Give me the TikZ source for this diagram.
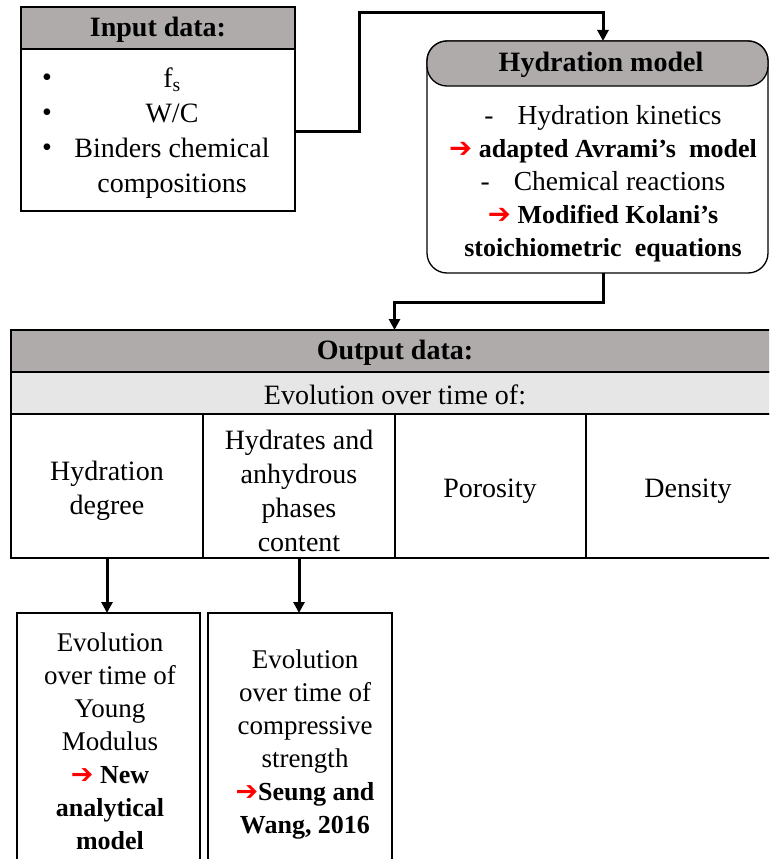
\documentclass[tikz,border=0pt]{standalone}
\usepackage{fontspec}
\setmainfont{Liberation Serif}
\newfontfamily\symfont{DejaVu Sans}
\usetikzlibrary{arrows.meta}
\definecolor{hdr}{HTML}{AFABAB}
\definecolor{subrow}{HTML}{E7E6E6}
\newcommand{\redarr}{{\color{red}\symfont ➔}}
\newcommand{\bt}[1]{{\fontsize{26}{33}\selectfont\bfseries #1}}
\begin{document}
\begin{tikzpicture}[x=1pt,y=-1pt,
  box/.style={draw=black,line width=1.3pt,inner sep=0pt,outer sep=0pt},
  conn/.style={line width=3pt,-{Triangle[width=11pt,length=11pt]}},
  txt/.style={align=center,inner sep=0pt,font=\fontsize{28}{34}\selectfont},
  txtb/.style={align=center,inner sep=0pt,font=\fontsize{28}{34}\selectfont\bfseries},
  txtm/.style={align=center,inner sep=0pt,font=\fontsize{27.5}{33}\selectfont},
  txts/.style={align=center,inner sep=0pt,font=\fontsize{27}{33}\selectfont}]
\useasboundingbox (0,0) rectangle (769,859);
\clip (0,0) rectangle (769,859);
% Input box
\node[box,fill=hdr,minimum width=274pt,minimum height=42pt,anchor=north west] (inhead) at (21,7) {};
\node[box,minimum width=274pt,minimum height=162pt,anchor=north west] (inbody) at (21,49) {};
\node[txtb] (intitle) at (158,30) {Input data:};
\node[txt,font=\fontsize{28}{35}\selectfont] (inbul) at (47,115) {\textbullet\\\textbullet\\\textbullet};
\node[txt,font=\fontsize{28}{35}\selectfont] (intext) at (172,133) {f\textsubscript{s}\\W/C\\Binders chemical\\compositions};
% Hydration model
\node[box,rounded corners=20pt,minimum width=341pt,minimum height=232pt,anchor=north west] (hyd) at (427,41) {};
\node[box,fill=hdr,rounded corners=20pt,minimum width=341pt,minimum height=45pt,anchor=north west] (hydhead) at (427,41) {};
\node[txtb] (hydtitle) at (601,65) {Hydration model};
\node[txtm] (hydtext) at (603,183.5) {-\hspace{24pt}Hydration kinetics\\
  \redarr{} \bt{adapted Avrami's\ \ model}\\
  -\hspace{24pt}Chemical reactions\\
  \redarr{} \bt{Modified Kolani's}\\
  \bt{stoichiometric\ \ equations}};
\coordinate (hin) at (603,41);
\coordinate (hout) at (603,273);
\coordinate (inout) at (295,131);
% Output table
\node[box,fill=hdr,minimum width=767pt,minimum height=42pt,anchor=north west] (outhead) at (11,330) {};
\node[box,fill=subrow,minimum width=767pt,minimum height=42pt,anchor=north west] (outsub) at (11,372) {};
\node[box,minimum width=192pt,minimum height=144pt,anchor=north west] (c1) at (11,414) {};
\node[box,minimum width=192pt,minimum height=144pt,anchor=north west] (c2) at (203,414) {};
\node[box,minimum width=191pt,minimum height=144pt,anchor=north west] (c3) at (395,414) {};
\node[box,minimum width=192pt,minimum height=144pt,anchor=north west] (c4) at (586,414) {};
\node[txtb] (outtitle) at (395,353) {Output data:};
\node[txt] (outsubt) at (395,395) {Evolution over time of:};
\node[txt] (t1) at (107,491) {Hydration\\degree};
\node[txt] (t2) at (299,491) {Hydrates and\\anhydrous\\phases\\content};
\node[txt] (t3) at (490,491) {Porosity};
\node[txt] (t4) at (688,491) {Density};
% Bottom boxes
\node[box,minimum width=183pt,minimum height=260pt,anchor=north west] (yb) at (17,613) {};
\node[box,minimum width=184pt,minimum height=260pt,anchor=north west] (cb) at (208,613) {};
\node[txts] (ytext) at (110,741) {Evolution\\over\ time\ of\\Young\\Modulus\\\redarr{} \bt{New}\\\bt{analytical}\\\bt{model}};
\node[txts] (ctext) at (305,744) {Evolution\\over\ time\ of\\compressive\\strength\\\redarr\bt{Seung and}\\\bt{Wang, 2016}};
% Connectors
\draw[conn] (inout) -- (359,131) -- (359,13) -| (hin);
\draw[conn] (hout) -- (603,302) -| (outhead.north);
\draw[conn] (c1.south) -- (c1.south |- yb.north);
\draw[conn] (c2.south) -- (c2.south |- cb.north);
\end{tikzpicture}
\end{document}
